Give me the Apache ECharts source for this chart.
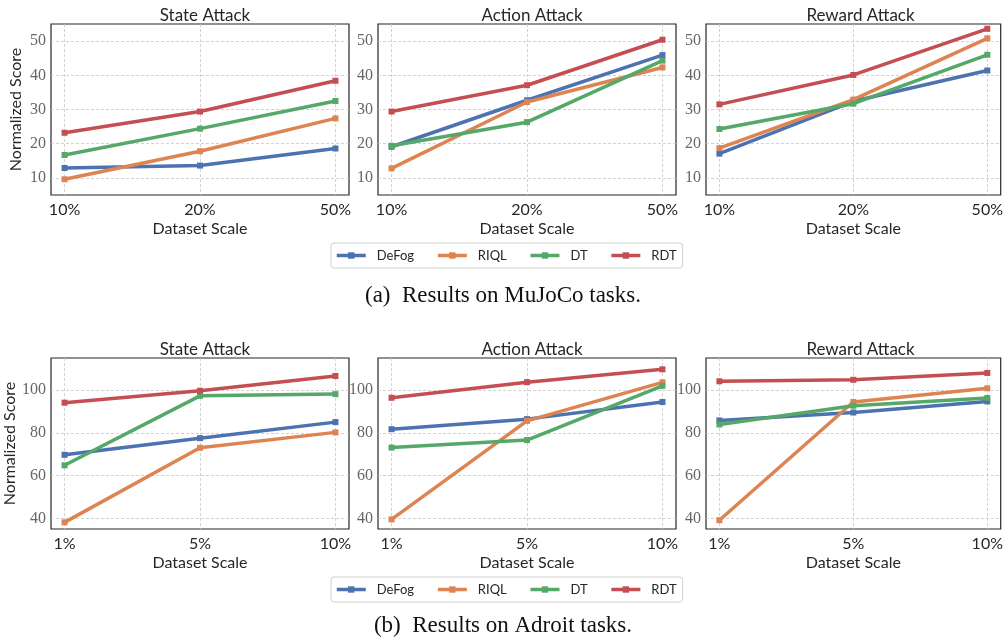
<!DOCTYPE html>
<html>
<head>
<meta charset="utf-8">
<script src="https://cdn.jsdelivr.net/npm/echarts@6/dist/echarts.min.js"></script>
<style>
html,body{margin:0;padding:0;background:#fff;}
#chart{width:1006px;height:637px;}
</style>
</head>
<body>
<div id="chart"></div>
<script>
// ---- data ----
const methods = ['DeFog', 'RIQL', 'DT', 'RDT'];
const colors = ['#4C72B0', '#DD8452', '#55A868', '#C44E52'];
const panelTitles = ['State Attack', 'Action Attack', 'Reward Attack'];
const mujocoScales = ['10%', '20%', '50%'];
const adroitScales = ['1%', '5%', '10%'];
const mujocoTicks = [10, 20, 30, 40, 50];
const adroitTicks = [40, 60, 80, 100];

// MuJoCo: [DeFog, RIQL, DT, RDT] per attack
const mujocoState = [[12.9, 13.6, 18.6], [9.6, 17.8, 27.4], [16.7, 24.4, 32.5], [23.2, 29.4, 38.4]];
const mujocoAction = [[19.1, 32.7, 45.9], [12.8, 32.2, 42.3], [19.4, 26.3, 44.3], [29.4, 37.1, 50.4]];
const mujocoReward = [[17.1, 32.4, 41.4], [18.7, 32.9, 50.8], [24.3, 31.7, 46.0], [31.5, 40.1, 53.6]];
// Adroit
const adroitState = [[69.7, 77.5, 85.0], [38.1, 73.0, 80.2], [64.8, 97.3, 98.1], [94.1, 99.7, 106.6]];
const adroitAction = [[81.7, 86.4, 94.4], [39.5, 85.6, 103.6], [73.1, 76.6, 102.0], [96.4, 103.7, 109.7]];
const adroitReward = [[85.8, 89.5, 94.7], [39.1, 94.4, 100.8], [83.9, 92.7, 96.3], [104.1, 104.8, 108.0]];

// ---- layout ----
const colLeft = [51, 378, 706];
const colWidth = [298, 298, 299];
const rowTop = [24, 358];
const rowHeight = 171;
const rows = [
  {data: [mujocoState, mujocoAction, mujocoReward], scales: mujocoScales, ticks: mujocoTicks, min: 5, max: 55},
  {data: [adroitState, adroitAction, adroitReward], scales: adroitScales, ticks: adroitTicks, min: 35, max: 115}
];

const grids = [], xAxes = [], yAxes = [], series = [], titles = [];
const gridLine = {show: true, lineStyle: {type: [3, 2], color: '#c6c6c6', width: 0.8}};
let gi = 0;
rows.forEach((row, r) => {
  for (let c = 0; c < 3; c++) {
    grids.push({left: colLeft[c], top: rowTop[r], width: colWidth[c], height: rowHeight,
      show: true, borderColor: '#262626', borderWidth: 1.2, backgroundColor: '#fff', containLabel: false});
    const lbls = row.scales;
    xAxes.push({
      type: 'value', gridIndex: gi, min: -0.1, max: 2.1,
      axisLine: {show: false},
      axisTick: {show: false, customValues: [0, 1, 2]},
      axisLabel: {customValues: [0, 1, 2], formatter: v => lbls[Math.round(v)],
        fontFamily: 'Lato', fontSize: 16, color: '#262626', margin: 7},
      splitLine: gridLine,
      name: 'Dataset Scale', nameLocation: 'middle', nameGap: 26,
      nameTextStyle: {fontFamily: 'Lato', fontSize: 16, color: '#262626'}
    });
    yAxes.push({
      type: 'value', gridIndex: gi, min: row.min, max: row.max,
      axisLine: {show: false},
      axisTick: {show: false, customValues: row.ticks},
      axisLabel: {customValues: row.ticks, fontFamily: 'Liberation Serif', fontSize: 16, color: '#666', margin: 5},
      splitLine: gridLine,
      name: c === 0 ? 'Normalized Score' : '', nameLocation: 'middle', nameGap: 27,
      nameTextStyle: {fontFamily: 'Lato', fontSize: 16, color: '#262626'}
    });
    titles.push({text: panelTitles[c], left: colLeft[c] + colWidth[c] / 2, top: rowTop[r] - 22, textAlign: 'center',
      textStyle: {fontFamily: 'Lato', fontSize: 17, fontWeight: 'normal', color: '#262626'}});
    const panel = row.data[c];
    methods.forEach((m, k) => {
      series.push({
        name: m, type: 'line', xAxisIndex: gi, yAxisIndex: gi,
        data: panel[k].map((v, i) => [i, v]),
        symbol: 'rect', symbolSize: 6, showSymbol: true,
        lineStyle: {width: 3.5, color: colors[k]},
        itemStyle: {color: colors[k]},
        silent: true, animation: false, z: 2 + k
      });
    });
    gi++;
  }
});

const legendBase = {
  data: methods, orient: 'horizontal', selectedMode: false,
  itemWidth: 29, itemHeight: 8, itemGap: 22,
  padding: [6, 6, 6, 4],
  borderColor: '#d0d0d0', borderWidth: 1, borderRadius: 3,
  lineStyle: {width: 3.5},
  textStyle: {fontFamily: 'Lato', fontSize: 13, color: '#262626', padding: [0, 0, 0, 6]}
};

const option = {
  animation: false,
  backgroundColor: '#fff',
  color: colors,
  title: titles,
  grid: grids,
  xAxis: xAxes,
  yAxis: yAxes,
  legend: [
    Object.assign({}, legendBase, {left: 331, top: 243}),
    Object.assign({}, legendBase, {left: 331, top: 577})
  ],
  graphic: [
    {type: 'text', left: 'center', top: 284, style: {text: '(a)\u2002Results on MuJoCo tasks.', font: '23px "Liberation Serif"', fill: '#111'}},
    {type: 'text', left: 'center', top: 614, style: {text: '(b)\u2002Results on Adroit tasks.', font: '23px "Liberation Serif"', fill: '#111'}}
  ],
  series: series
};

const chart = echarts.init(document.getElementById('chart'), null, {renderer: 'canvas'});
chart.setOption(option);
</script>
</body>
</html>
